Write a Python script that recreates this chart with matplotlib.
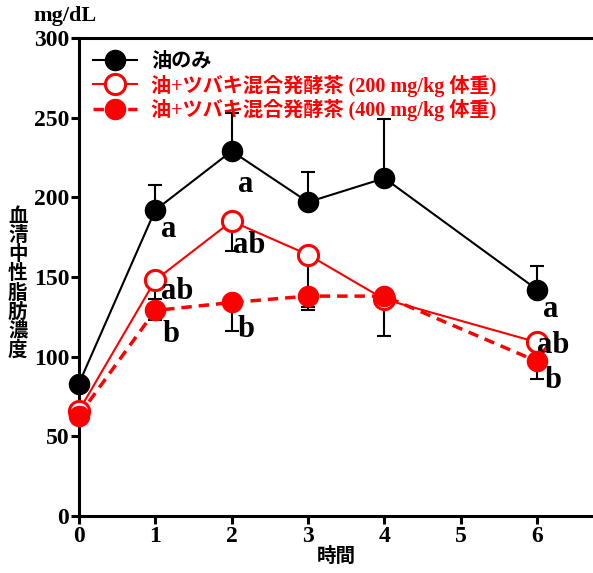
import numpy as np
import matplotlib
matplotlib.use("Agg")
from matplotlib import pyplot as plt

# 時間 (h)
hours = [0, 1, 2, 3, 4, 6]

# 油のみ
oil_mean = [83, 192, 229, 197, 212, 142]
oil_err = [0, 16, 24, 19, 37, 15]          # 上方向のみ
# 油+ツバキ混合発酵茶 (200 mg/kg)
low_mean = [66, 148, 185, 164, 136, 109]
low_err = [0, 12, 19, 33, 0, 0]            # 下方向のみ
# 油+ツバキ混合発酵茶 (400 mg/kg)
high_mean = [63, 129, 134, 138, 138, 97]
high_err = [0, 6, 18, 9, 25, 11]           # 下方向のみ

oil_sig = ["", "a", "a", "", "", "a"]
low_sig = ["", "ab", "ab", "", "", "ab"]
high_sig = ["", "b", "b", "", "", "b"]

yticks = [0, 50, 100, 150, 200, 250, 300]
xticks = [0, 1, 2, 3, 4, 5, 6]

labels = ["油のみ",
          "油+ツバキ混合発酵茶 (200 mg/kg 体重)",
          "油+ツバキ混合発酵茶 (400 mg/kg 体重)"]

serif = "Liberation Serif"
mixed = ["Liberation Serif", "Noto Sans CJK JP"]
jp = "Noto Sans CJK JP"

fig = plt.figure(figsize=(5.93, 5.73), dpi=100)
ax = fig.add_axes([0.133, 0.0995, 0.867, 0.8342])

ms = 14.5
# 誤差棒
kw = dict(fmt="none", ecolor="black", elinewidth=1.5, capsize=5, capthick=1.5, zorder=2)
ax.errorbar(hours, oil_mean, yerr=[np.zeros(6), oil_err], **kw)
ax.errorbar(hours, low_mean, yerr=[low_err, np.zeros(6)], **kw)
ax.errorbar(hours, high_mean, yerr=[high_err, np.zeros(6)], **kw)

ax.plot(hours, oil_mean, "-o", color="black", lw=1.5, ms=ms,
        label=labels[0], zorder=3, clip_on=False)
ax.plot(hours, low_mean, "-o", color="red", lw=1.5, ms=ms, mfc="white",
        mew=2.2, label=labels[1], zorder=3, clip_on=False)
ax.plot(hours, high_mean, "--o", color="red", lw=2.5, ms=ms, dashes=(3, 2),
        label=labels[2], zorder=4, clip_on=False)

# 有意差の文字 (位置の微調整: x, y のずれ)
def put_letters(means, sigs, offs):
    for x, y, s, (dx, dy) in zip(hours, means, sigs, offs):
        if s:
            ax.text(x + dx, y + dy, s, fontsize=22, fontweight="bold",
                    family=serif, va="top", ha="left")

put_letters(oil_mean, oil_sig, [(0, 0), (0.08, -3), (0.08, -12), (0, 0), (0, 0), (0.08, -3)])
put_letters(low_mean, low_sig, [(0, 0), (0.08, 2), (0.02, -6), (0, 0), (0, 0), (0.0, 7)])
put_letters(high_mean, high_sig, [(0, 0), (0.1, -6), (0.08, -8), (0, 0), (0, 0), (0.1, -3)])

ax.set_xlim(0, 6.73)
ax.set_ylim(0, 300)
ax.set_xticks(xticks)
ax.set_yticks(yticks)
ax.set_xticklabels([str(v) for v in xticks], family=serif,
                   fontweight="bold", fontsize=17)
ax.set_yticklabels([str(v) for v in yticks], family=serif,
                   fontweight="bold", fontsize=17)
ax.tick_params(direction="out", length=6, width=2.2, pad=1)

for side in ["left", "bottom", "top"]:
    ax.spines[side].set_linewidth(2.2)
ax.spines["right"].set_visible(False)

ax.set_xlabel("時間", family=jp, fontweight="bold", fontsize=14, labelpad=0)
fig.text(0.03, 0.505, "\n".join("血清中性脂肪濃度"), family=jp,
         fontweight="bold", fontsize=14, ha="center", va="center",
         linespacing=1.0)
fig.text(0.11, 0.972, "mg/dL", family=serif, fontweight="bold",
         fontsize=16, ha="center", va="center")

leg = ax.legend(loc="upper left", bbox_to_anchor=(0.0, 1.0), frameon=False,
                prop={"family": mixed, "weight": "bold", "size": 14.5},
                handlelength=2.2, borderaxespad=0.3, labelspacing=0.12,
                handletextpad=0.7, borderpad=0.4)
leg.get_texts()[1].set_color("red")
leg.get_texts()[2].set_color("red")

fig.savefig("out.png", dpi=100)
